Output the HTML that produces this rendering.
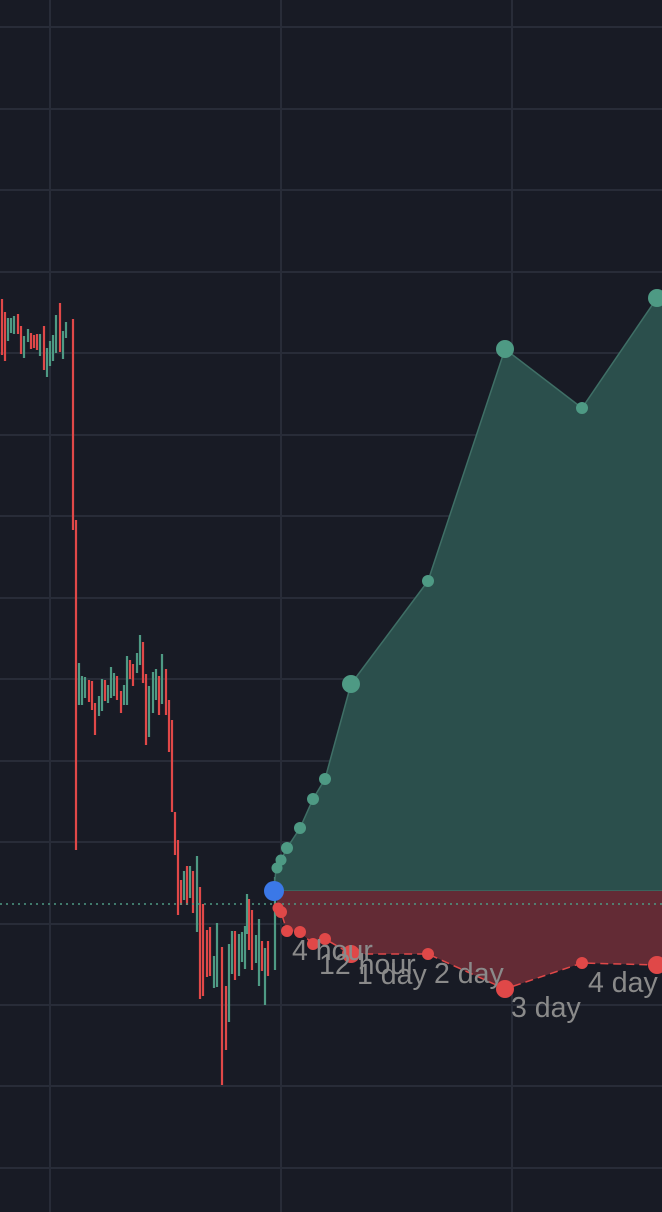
<!DOCTYPE html>
<html><head><style>
html,body{margin:0;padding:0;background:#181b25;width:662px;height:1212px;overflow:hidden}
svg{display:block}
text{font-family:"Liberation Sans",sans-serif;font-size:28.5px;fill:#8a8a8a}
</style></head><body>
<svg width="662" height="1212" viewBox="0 0 662 1212">
<rect width="662" height="1212" fill="#181b25"/>
<g stroke="#282c38" stroke-width="2">
<line x1="0" y1="27" x2="662" y2="27"/><line x1="0" y1="109" x2="662" y2="109"/><line x1="0" y1="190" x2="662" y2="190"/><line x1="0" y1="272" x2="662" y2="272"/><line x1="0" y1="353" x2="662" y2="353"/><line x1="0" y1="435" x2="662" y2="435"/><line x1="0" y1="516" x2="662" y2="516"/><line x1="0" y1="598" x2="662" y2="598"/><line x1="0" y1="679" x2="662" y2="679"/><line x1="0" y1="761" x2="662" y2="761"/><line x1="0" y1="842" x2="662" y2="842"/><line x1="0" y1="924" x2="662" y2="924"/><line x1="0" y1="1005" x2="662" y2="1005"/><line x1="0" y1="1086" x2="662" y2="1086"/><line x1="0" y1="1168" x2="662" y2="1168"/>
<line x1="50" y1="0" x2="50" y2="1212"/><line x1="281" y1="0" x2="281" y2="1212"/><line x1="512" y1="0" x2="512" y2="1212"/>
</g>
<g stroke-width="2.2">
<g stroke="#e04848">
<line x1="2" y1="299" x2="2" y2="355"/><line x1="5" y1="312" x2="5" y2="361"/><line x1="18" y1="314" x2="18" y2="334"/><line x1="21" y1="326" x2="21" y2="354"/><line x1="31" y1="333" x2="31" y2="349"/><line x1="34" y1="335" x2="34" y2="348"/><line x1="37" y1="334" x2="37" y2="350"/><line x1="44" y1="326" x2="44" y2="370"/><line x1="60" y1="303" x2="60" y2="352"/><line x1="73" y1="319" x2="73" y2="530"/><line x1="76" y1="520" x2="76" y2="850"/>
<line x1="89" y1="680" x2="89" y2="702"/><line x1="92" y1="681" x2="92" y2="710"/><line x1="95" y1="703" x2="95" y2="735"/><line x1="105" y1="680" x2="105" y2="701"/><line x1="117" y1="676" x2="117" y2="700"/><line x1="121" y1="691" x2="121" y2="713"/><line x1="130" y1="660" x2="130" y2="679"/><line x1="133" y1="664" x2="133" y2="686"/><line x1="143" y1="642" x2="143" y2="683"/><line x1="146" y1="674" x2="146" y2="745"/><line x1="159" y1="676" x2="159" y2="715"/><line x1="166" y1="669" x2="166" y2="715"/><line x1="169" y1="700" x2="169" y2="752"/><line x1="172" y1="720" x2="172" y2="812"/><line x1="175" y1="812" x2="175" y2="855"/><line x1="178" y1="840" x2="178" y2="915"/><line x1="181" y1="880" x2="181" y2="905"/><line x1="187" y1="866" x2="187" y2="905"/><line x1="193" y1="871" x2="193" y2="913"/><line x1="200" y1="887" x2="200" y2="999"/><line x1="203" y1="904" x2="203" y2="996"/><line x1="207" y1="930" x2="207" y2="977"/><line x1="210" y1="927" x2="210" y2="976"/><line x1="222" y1="947" x2="222" y2="1085"/><line x1="226" y1="986" x2="226" y2="1050"/><line x1="235" y1="931" x2="235" y2="980"/><line x1="249" y1="899" x2="249" y2="950"/><line x1="252" y1="910" x2="252" y2="970"/><line x1="262" y1="941" x2="262" y2="971"/><line x1="268" y1="941" x2="268" y2="976"/>
</g>
<g stroke="#4e9a84">
<line x1="8" y1="318" x2="8" y2="341"/><line x1="11" y1="318" x2="11" y2="333"/><line x1="14" y1="316" x2="14" y2="334"/><line x1="24" y1="336" x2="24" y2="358"/><line x1="28" y1="329" x2="28" y2="342"/><line x1="40" y1="334" x2="40" y2="356"/><line x1="47" y1="348" x2="47" y2="377"/><line x1="50" y1="341" x2="50" y2="366"/><line x1="53" y1="335" x2="53" y2="361"/><line x1="56" y1="315" x2="56" y2="353"/><line x1="63" y1="331" x2="63" y2="359"/><line x1="66" y1="322" x2="66" y2="338"/>
<line x1="79" y1="663" x2="79" y2="705"/><line x1="82" y1="676" x2="82" y2="705"/><line x1="85" y1="677" x2="85" y2="698"/><line x1="99" y1="696" x2="99" y2="716"/><line x1="102" y1="679" x2="102" y2="711"/><line x1="108" y1="685" x2="108" y2="703"/><line x1="111" y1="667" x2="111" y2="698"/><line x1="114" y1="673" x2="114" y2="696"/><line x1="124" y1="685" x2="124" y2="705"/><line x1="127" y1="656" x2="127" y2="705"/><line x1="137" y1="653" x2="137" y2="673"/><line x1="140" y1="635" x2="140" y2="665"/><line x1="149" y1="686" x2="149" y2="737"/><line x1="153" y1="672" x2="153" y2="713"/><line x1="156" y1="669" x2="156" y2="700"/><line x1="162" y1="654" x2="162" y2="704"/>
<line x1="184" y1="871" x2="184" y2="900"/><line x1="190" y1="866" x2="190" y2="898"/><line x1="197" y1="856" x2="197" y2="932"/><line x1="214" y1="956" x2="214" y2="988"/><line x1="217" y1="923" x2="217" y2="987"/><line x1="229" y1="944" x2="229" y2="1022"/><line x1="232" y1="931" x2="232" y2="974"/><line x1="239" y1="934" x2="239" y2="976"/><line x1="242" y1="932" x2="242" y2="962"/><line x1="245" y1="926" x2="245" y2="969"/><line x1="247" y1="894" x2="247" y2="934"/><line x1="256" y1="935" x2="256" y2="963"/><line x1="259" y1="919" x2="259" y2="986"/><line x1="265" y1="948" x2="265" y2="1005"/><line x1="275" y1="877" x2="275" y2="970"/>
</g>
</g>
<polygon points="274,891 276,868 281,860 287,848 300,828 313,799 325,779 351,684 428,581 505,349 582,408 657,298 662,298 662,891" fill="#2b4f4c"/>
<polyline points="274,891 276,868 281,860 287,848 300,828 313,799 325,779 351,684 428,581 505,349 582,408 657,298" fill="none" stroke="#3f6f66" stroke-width="1.5"/>
<line x1="274" y1="891" x2="662" y2="891" stroke="#4a7a6e" stroke-width="1"/>
<polygon points="274,891 279,908 281,912 287,931 300,932 313,944 325,939 351,954 428,954 505,989 582,963 657,965 662,965 662,891" fill="#632b35"/>
<polyline points="274,891 279,908 281,912 287,931 300,932 313,944 325,939 351,954 428,954 505,989 582,963 657,965" fill="none" stroke="#e04848" stroke-width="1.5" stroke-dasharray="8,5"/>
<line x1="0" y1="904" x2="662" y2="904" stroke="#4e9a84" stroke-width="1.5" stroke-dasharray="2,4"/>
<g fill="#4e9a84">
<circle cx="277" cy="868" r="5.5"/><circle cx="281" cy="860" r="5.5"/><circle cx="287" cy="848" r="6"/><circle cx="300" cy="828" r="6"/><circle cx="313" cy="799" r="6"/><circle cx="325" cy="779" r="6"/><circle cx="351" cy="684" r="9"/><circle cx="428" cy="581" r="6"/><circle cx="505" cy="349" r="9"/><circle cx="582" cy="408" r="6"/><circle cx="657" cy="298" r="9"/>
</g>
<g fill="#e04848">
<circle cx="278" cy="908" r="5.5"/><circle cx="281" cy="912" r="6"/><circle cx="287" cy="931" r="6"/><circle cx="300" cy="932" r="6"/><circle cx="313" cy="944" r="6"/><circle cx="325" cy="939" r="6"/><circle cx="351" cy="954" r="9"/><circle cx="428" cy="954" r="6"/><circle cx="505" cy="989" r="9"/><circle cx="582" cy="963" r="6"/><circle cx="657" cy="965" r="9"/>
</g>
<circle cx="274" cy="891" r="10" fill="#3b78e7"/>
<text x="292" y="960">4 hour</text>
<text x="319" y="974">12 hour</text>
<text x="357" y="984">1 day</text>
<text x="434" y="983">2 day</text>
<text x="511" y="1017">3 day</text>
<text x="588" y="992">4 day</text>
</svg>
</body></html>
